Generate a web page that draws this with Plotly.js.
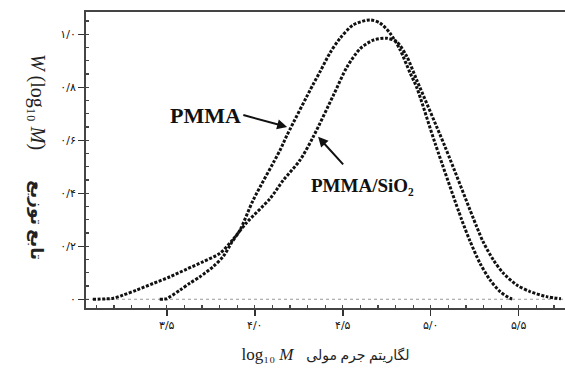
<!DOCTYPE html>
<html>
<head>
<meta charset="utf-8">
<script src="https://cdn.plot.ly/plotly-3.0.1.min.js"></script>
<style>html,body{margin:0;padding:0;background:#fff;overflow:hidden;}</style>
</head>
<body>
<div id="chart" style="width:565px;height:376px;"></div>
<script>
// ---- data ----
const pmmaX = [3.46, 3.50, 3.52, 3.576, 3.632, 3.689, 3.763, 3.82, 3.87, 3.917, 3.991, 4.144, 4.184, 4.331, 4.372, 4.428, 4.485, 4.559, 4.655, 4.712, 4.769, 4.826, 4.882, 4.92, 5.024, 5.176, 5.223, 5.28, 5.337, 5.394, 5.45, 5.47];
const pmmaY = [0, 0.002, 0.01, 0.035, 0.061, 0.085, 0.123, 0.161, 0.215, 0.262, 0.374, 0.563, 0.62, 0.81, 0.86, 0.93, 0.985, 1.035, 1.054, 1.042, 1.004, 0.941, 0.855, 0.80, 0.59, 0.30, 0.22, 0.136, 0.073, 0.029, 0.004, 0];

const sio2X = [3.08, 3.197, 3.253, 3.33, 3.424, 3.519, 3.614, 3.708, 3.803, 3.869, 3.955, 4.087, 4.163, 4.257, 4.333, 4.447, 4.523, 4.598, 4.674, 4.75, 4.807, 4.864, 4.92, 5.081, 5.261, 5.299, 5.356, 5.413, 5.489, 5.564, 5.659, 5.74];
const sio2Y = [0, 0.004, 0.016, 0.035, 0.06, 0.085, 0.114, 0.142, 0.174, 0.22, 0.29, 0.38, 0.45, 0.525, 0.614, 0.77, 0.875, 0.945, 0.978, 0.985, 0.972, 0.916, 0.828, 0.576, 0.274, 0.215, 0.148, 0.098, 0.054, 0.029, 0.01, 0.002];

const xTickVals = [3.5, 4.0, 4.5, 5.0, 5.5];
const xTickText = ['۳/۵', '۴/۰', '۴/۵', '۵/۰', '۵/۵'];
const yTickVals = [0, 0.2, 0.4, 0.6, 0.8, 1.0];
const yTickText = ['۰', '۰/۲', '۰/۴', '۰/۶', '۰/۸', '۱/۰'];

const seriesNames = ['PMMA', 'PMMA/SiO₂'];
const xTitle = 'log₁₀ <i>M</i>\u00a0\u00a0\u00a0<span style="font-size:14px">لگاریتم جرم مولی</span>';
const yTitle = '<i>W</i> (log₁₀ <i>M</i>)\u00a0\u00a0\u00a0\u00a0\u00a0\u00a0<b><span style="font-size:17px">تابع توزیع</span></b>';

// ---- chart ----
const xRange = [3.041, 5.763];
const yRange = [-0.033, 1.084];
const serif = 'Liberation Serif, DejaVu Serif, DejaVu Sans, serif';
const lineStyle = {color: '#111', width: 3, dash: '3px,1.6px', shape: 'spline', smoothing: 0.8};

const traces = [
  {x: pmmaX, y: pmmaY, type: 'scatter', mode: 'lines', name: 'PMMA', line: lineStyle, hoverinfo: 'skip'},
  {x: sio2X, y: sio2Y, type: 'scatter', mode: 'lines', name: 'PMMA/SiO2', line: lineStyle, hoverinfo: 'skip'}
];

const axisCommon = {
  showgrid: false, zeroline: false, showline: true, linewidth: 2, linecolor: '#444',
  ticks: 'outside', ticklen: 6, tickwidth: 1.5, tickcolor: '#333',
  tickfont: {family: 'DejaVu Sans, sans-serif', size: 11, color: '#111'},
  tickmode: 'array'
};

const layout = {
  width: 565, height: 376,
  margin: {l: 86, r: 0, t: 12, b: 68},
  paper_bgcolor: '#fff', plot_bgcolor: '#fff',
  showlegend: false,
  xaxis: Object.assign({}, axisCommon, {
    range: xRange, tickvals: xTickVals, ticktext: xTickText, mirror: true,
    title: {text: xTitle, font: {family: serif, size: 17, color: '#222'}, standoff: 17},
    automargin: false,
    minor: {dtick: 0.1, tick0: 3.5, ticks: 'inside', ticklen: 3, tickwidth: 1.2, tickcolor: '#444'}
  }),
  yaxis: Object.assign({}, axisCommon, {
    range: yRange, tickvals: yTickVals, ticktext: yTickText, mirror: false,
    minor: {dtick: 0.05, tick0: 0, ticks: 'inside', ticklen: 3, tickwidth: 1.2, tickcolor: '#444'}
  }),
  shapes: [
    {type: 'line', xref: 'paper', x0: 0, x1: 1, yref: 'y', y0: 0, y1: 0,
     line: {color: '#999', width: 1, dash: 'dot'}, layer: 'below'}
  ],
  annotations: [
    {xref: 'paper', yref: 'paper', x: -0.1, y: 0.51, xanchor: 'center', yanchor: 'middle',
     text: yTitle, textangle: 90, showarrow: false, font: {family: serif, size: 20, color: '#222'}},
    {xref: 'x', yref: 'y', x: 4.184, y: 0.650, axref: 'x', ayref: 'y', ax: 3.935, ay: 0.695,
     xanchor: 'right', yanchor: 'middle',
     text: '<b>' + seriesNames[0] + '</b>', showarrow: true, arrowhead: 2, arrowsize: 1,
     arrowwidth: 2, arrowcolor: '#111', font: {family: serif, size: 22, color: '#111'}},
    {xref: 'x', yref: 'y', x: 4.36, y: 0.613, axref: 'x', ayref: 'y', ax: 4.61, ay: 0.43,
     text: '<b>' + seriesNames[1] + '</b>', showarrow: true, arrowhead: 2, arrowsize: 1,
     arrowwidth: 2, arrowcolor: '#111', startstandoff: 12,
     font: {family: serif, size: 19, color: '#111'}}
  ]
};

Plotly.newPlot('chart', traces, layout, {staticPlot: true, displayModeBar: false});
</script>
</body>
</html>
